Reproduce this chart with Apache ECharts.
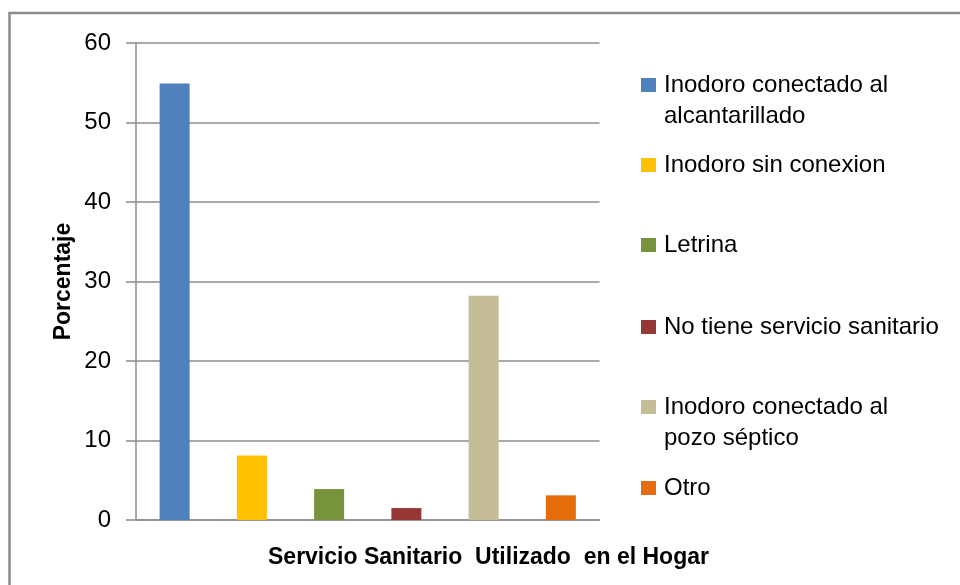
<!DOCTYPE html>
<html>
<head>
<meta charset="utf-8">
<script src="https://cdn.jsdelivr.net/npm/echarts@6/dist/echarts.min.js"></script>
<style>
  html, body { margin: 0; padding: 0; background: #fff; }
  #chart { width: 960px; height: 585px; }
</style>
</head>
<body>
<div id="chart"></div>
<script>
// ---- data ----
const categories = [
  'Inodoro conectado al alcantarillado',
  'Inodoro sin conexion',
  'Letrina',
  'No tiene servicio sanitario',
  'Inodoro conectado al pozo séptico',
  'Otro'
];
const legendLabels = [
  'Inodoro conectado al\nalcantarillado',
  'Inodoro sin conexion',
  'Letrina',
  'No tiene servicio sanitario',
  'Inodoro conectado al\npozo séptico',
  'Otro'
];
const values = [54.9, 8.1, 3.9, 1.5, 28.2, 3.1];
const yMin = 0, yMax = 60, yStep = 10;
const xTitle = 'Servicio Sanitario  Utilizado  en el Hogar';
const yTitle = 'Porcentaje';

// ---- styles ----
const colors = ['#4F81BD', '#FFC000', '#77933C', '#953735', '#C4BD97', '#E46C0A'];
const FONT = 'Liberation Sans';
const axisGray = '#8C8C8C';
const legendIconCenters = [85, 165, 245, 327, 407, 488];
const LH = 31;

const series = categories.map((name, i) => ({
  name: name,
  type: 'bar',
  stack: 'all',
  barWidth: 30,
  itemStyle: { color: colors[i] },
  data: values.map((v, j) => (j === i ? v : null))
}));

const legends = categories.map((name, i) => {
  const twoLine = legendLabels[i].indexOf('\n') >= 0;
  return {
    orient: 'vertical',
    left: 641,
    top: twoLine ? legendIconCenters[i] - 1.5 * LH : legendIconCenters[i] - LH / 2,
    padding: 0,
    itemWidth: 15,
    itemHeight: 14,
    icon: 'rect',
    selectedMode: false,
    data: [name],
    // a blank first line keeps the icon level with the first text line
    formatter: () => (twoLine ? ' \n' + legendLabels[i] : legendLabels[i]),
    textStyle: {
      fontFamily: FONT,
      fontSize: 24,
      lineHeight: LH,
      color: '#000',
      padding: [0, 0, 0, 3]
    }
  };
});

const chart = echarts.init(document.getElementById('chart'), null, { renderer: 'canvas' });
chart.setOption({
  animation: false,
  backgroundColor: '#fff',
  color: colors,
  title: {
    text: xTitle,
    left: 268,
    top: 546,
    padding: 0,
    textStyle: { fontFamily: FONT, fontSize: 23, fontWeight: 'bold', color: '#000' }
  },
  graphic: [{
    type: 'rect',
    shape: { x: 9.5, y: 13, width: 1000, height: 700 },
    style: { fill: 'none', stroke: axisGray, lineWidth: 2.5 },
    silent: true
  }],
  legend: legends,
  grid: { left: 136, right: 360.5, top: 43, bottom: 65, containLabel: false },
  xAxis: {
    type: 'category',
    data: categories,
    axisLabel: { show: false },
    axisTick: { show: false },
    axisLine: { show: true, lineStyle: { color: axisGray, width: 1.5 } },
    splitLine: { show: false }
  },
  yAxis: {
    type: 'value',
    min: yMin,
    max: yMax,
    interval: yStep,
    name: yTitle,
    nameLocation: 'middle',
    nameRotate: 90,
    nameGap: 61,
    nameTextStyle: { fontFamily: FONT, fontSize: 23, fontWeight: 'bold', color: '#000' },
    axisLine: { show: true, lineStyle: { color: axisGray, width: 1.5 } },
    axisTick: { show: true, length: 10, lineStyle: { color: axisGray, width: 1.5 } },
    axisLabel: { margin: 25, fontFamily: FONT, fontSize: 24, color: '#000' },
    splitLine: { show: true, lineStyle: { color: axisGray, width: 1.5 } }
  },
  series: series
});
</script>
</body>
</html>
